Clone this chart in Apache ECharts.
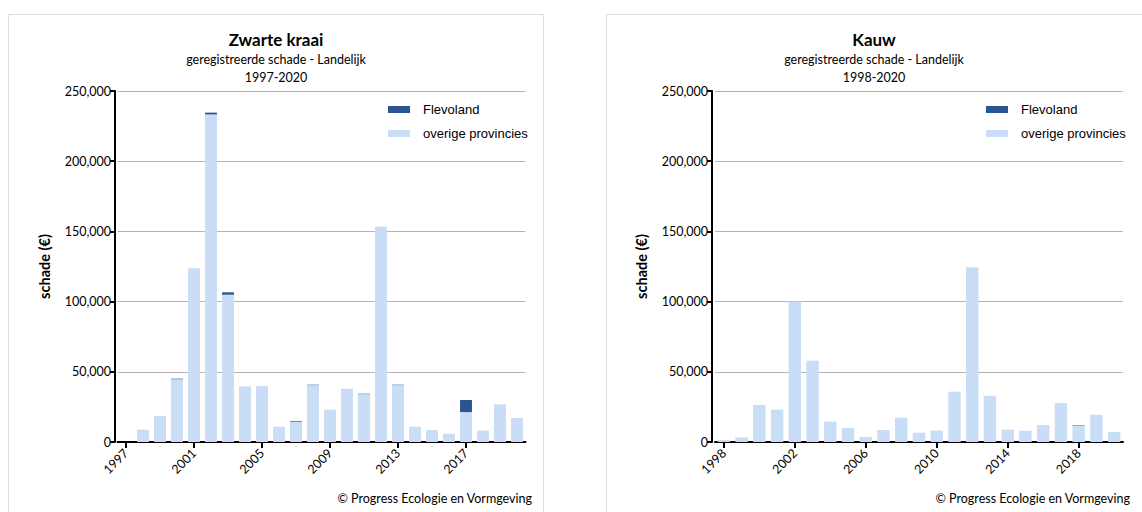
<!DOCTYPE html>
<html>
<head>
<meta charset="utf-8">
<script src="https://cdn.jsdelivr.net/npm/echarts@6/dist/echarts.min.js"></script>
<style>
html,body{margin:0;padding:0;background:#fff;}
#c{width:1142px;height:512px;}
</style>
</head>
<body>
<div id="c"></div>
<script>
// ---- data ----
const kraaiYears = ['1997','1998','1999','2000','2001','2002','2003','2004','2005','2006','2007','2008','2009','2010','2011','2012','2013','2014','2015','2016','2017','2018','2019','2020'];
const kraaiOverige = [0, 8800, 18600, 44700, 123700, 233300, 104900, 39600, 39800, 10900, 14500, 40500, 23000, 37900, 34100, 153300, 40500, 10900, 8500, 5900, 21300, 8100, 26800, 17100];
const kraaiFlevoland = [0, 0, 0, 400, 0, 1300, 1700, 0, 0, 0, 500, 300, 0, 0, 300, 0, 300, 0, 0, 0, 8600, 0, 0, 0];

const kauwYears = ['1998','1999','2000','2001','2002','2003','2004','2005','2006','2007','2008','2009','2010','2011','2012','2013','2014','2015','2016','2017','2018','2019','2020'];
const kauwOverige = [1400, 3300, 26300, 23000, 100000, 57800, 14500, 10000, 3600, 8500, 17300, 6600, 8100, 35800, 124400, 32900, 8800, 8100, 12100, 27700, 11800, 19400, 7100];
const kauwFlevoland = [0, 0, 0, 0, 0, 0, 0, 0, 0, 0, 0, 0, 0, 0, 0, 0, 0, 0, 0, 0, 300, 0, 0];

const yTicks = {min: 0, max: 250000, interval: 50000};
const seriesNames = ['Flevoland', 'overige provincies'];
const titles = [
  {main: 'Zwarte kraai', sub: 'geregistreerde schade - Landelijk', years: '1997-2020'},
  {main: 'Kauw', sub: 'geregistreerde schade - Landelijk', years: '1998-2020'}
];
const credit = '© Progress Ecologie en Vormgeving';
const yName = 'schade (€)';

// ---- styles ----
const cLight = '#c9ddf6';
const cDark = '#2b5592';
const labelFont = 'Lato';

function xAxisCfg(gridIndex, data) {
  return {
    type: 'category', gridIndex: gridIndex, data: data,
    axisLine: {lineStyle: {color: '#000', width: 2}},
    axisTick: {show: true, interval: 3, alignWithLabel: true, length: 6, lineStyle: {color: '#000', width: 2}},
    axisLabel: {interval: 3, rotate: 45, color: '#000', fontFamily: labelFont, fontSize: 12.5, margin: 9},
    splitLine: {show: false}
  };
}
function yAxisCfg(gridIndex, off) {
  return {
    type: 'value', gridIndex: gridIndex, min: yTicks.min, max: yTicks.max, interval: yTicks.interval,
    offset: off,
    name: yName, nameLocation: 'middle', nameGap: 63, nameRotate: 90,
    nameTextStyle: {fontFamily: labelFont, fontWeight: 'bold', fontSize: 14.5, color: '#000'},
    axisLine: {show: true, lineStyle: {color: '#000', width: 2}},
    axisTick: {show: true, length: 5, lineStyle: {color: '#000', width: 2}},
    axisLabel: {color: '#000', fontFamily: labelFont, fontSize: 12.5, margin: 4,
      formatter: v => v.toLocaleString('en-US')},
    splitLine: {show: true, lineStyle: {color: '#b4b4b4', width: 1}}
  };
}
function legendCfg(left) {
  return {
    orient: 'vertical', left: left, top: 98, itemWidth: 22, itemHeight: 7, itemGap: 11,
    icon: 'rect', data: seriesNames,
    textStyle: {fontFamily: 'Liberation Sans', fontSize: 13, color: '#000', padding: [0, 0, 0, 8]}
  };
}
function titleGraphics(cx, t) {
  return [
    {type: 'text', x: cx, y: 39, style: {text: t.main, textAlign: 'center', textVerticalAlign: 'middle', font: 'bold 17px Lato', fill: '#000'}},
    {type: 'text', x: cx, y: 59, style: {text: t.sub, textAlign: 'center', textVerticalAlign: 'middle', font: '12.5px Lato', fill: '#000'}},
    {type: 'text', x: cx, y: 77, style: {text: t.years, textAlign: 'center', textVerticalAlign: 'middle', font: '12.5px Lato', fill: '#000'}}
  ];
}

const chart = echarts.init(document.getElementById('c'), null, {renderer: 'svg'});
const option = {
  backgroundColor: '#fff',
  animation: false,
  grid: [
    {left: 117.5, top: 91, width: 408, height: 351},
    {left: 715, top: 91, width: 408, height: 351}
  ],
  legend: [legendCfg(383), legendCfg(981)],
  xAxis: [xAxisCfg(0, kraaiYears), xAxisCfg(1, kauwYears)],
  yAxis: [yAxisCfg(0, 2.5), yAxisCfg(1, 3)],
  series: [
    {name: 'overige provincies', type: 'bar', xAxisIndex: 0, yAxisIndex: 0, stack: 'a', data: kraaiOverige, barCategoryGap: '30%', itemStyle: {color: cLight}},
    {name: 'Flevoland', type: 'bar', xAxisIndex: 0, yAxisIndex: 0, stack: 'a', data: kraaiFlevoland, barCategoryGap: '30%', itemStyle: {color: cDark}},
    {name: 'overige provincies', type: 'bar', xAxisIndex: 1, yAxisIndex: 1, stack: 'b', data: kauwOverige, barCategoryGap: '30%', itemStyle: {color: cLight}},
    {name: 'Flevoland', type: 'bar', xAxisIndex: 1, yAxisIndex: 1, stack: 'b', data: kauwFlevoland, barCategoryGap: '30%', itemStyle: {color: cDark}}
  ],
  graphic: [
    {type: 'rect', shape: {x: 8.5, y: 14.5, width: 535, height: 510}, style: {fill: 'none', stroke: '#dcdcdc', lineWidth: 1}, silent: true, z: -10},
    {type: 'rect', shape: {x: 606.5, y: 14.5, width: 545, height: 510}, style: {fill: 'none', stroke: '#dcdcdc', lineWidth: 1}, silent: true, z: -10},
    ...titleGraphics(276, titles[0]),
    ...titleGraphics(874, titles[1]),
    {type: 'text', x: 532, y: 498, style: {text: credit, textAlign: 'right', textVerticalAlign: 'middle', font: '12.5px Lato', fill: '#000'}},
    {type: 'text', x: 1130, y: 498, style: {text: credit, textAlign: 'right', textVerticalAlign: 'middle', font: '12.5px Lato', fill: '#000'}}
  ]
};
chart.setOption(option);
</script>
</body>
</html>
